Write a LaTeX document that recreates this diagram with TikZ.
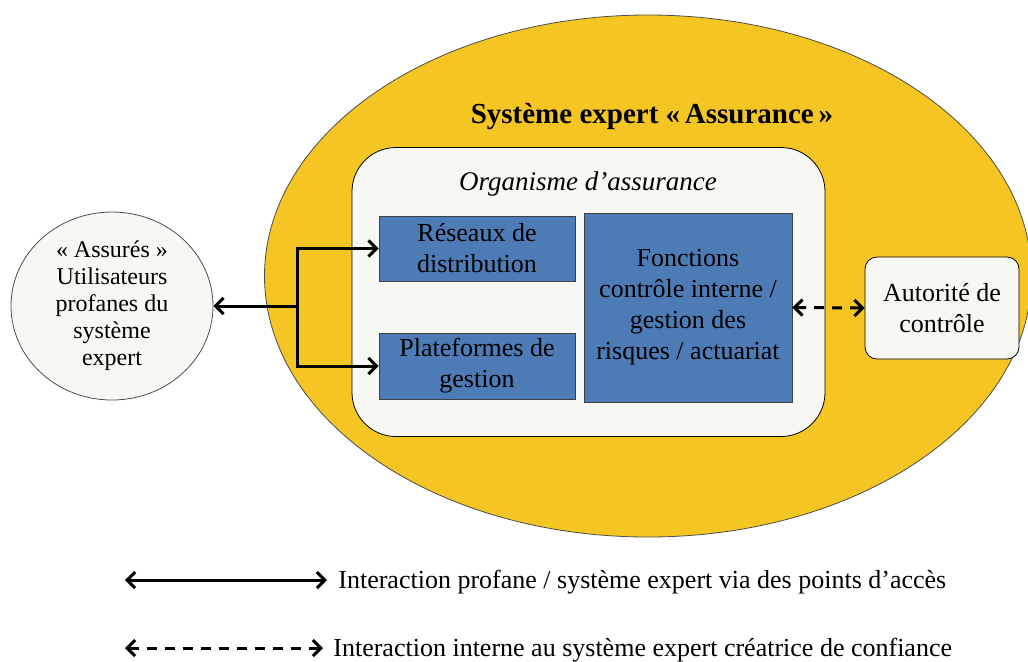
\documentclass[tikz,border=0pt]{standalone}
\usepackage{fontspec}
\setmainfont{Liberation Serif}
\usetikzlibrary{shapes.geometric,arrows.meta}
\definecolor{jaune}{RGB}{245,198,35}
\definecolor{bleu}{RGB}{76,123,182}
\definecolor{creme}{RGB}{247,247,243}
\begin{document}
\begin{tikzpicture}[x=0.5pt,y=-0.5pt,
        bloc/.style={draw=black!75,fill=bleu,inner sep=0pt,align=center,
            font=\fontsize{13}{15.5}\selectfont},
        lien/.style={line width=1.5pt,{Straight Barb[length=4pt,width=8pt]}-{Straight Barb[length=4pt,width=8pt]}},
        tirets/.style={lien,dash pattern=on 5pt off 4pt}]
        \useasboundingbox (0,0) rectangle (1028,661);
        \coordinate (S) at (648,276);
        \coordinate (O) at (588.5,292);
        \coordinate (J) at (297,306);
        \coordinate (L1a) at (125,580);
        \coordinate (L1b) at (327,580);
        \coordinate (L2a) at (125,648);
        \coordinate (L2b) at (323,648);
        \node [draw=black!70,fill=jaune,ellipse,minimum width=383.5pt,minimum height=261pt] (systeme) at (S) {};
        \node [font=\fontsize{14.5}{17}\selectfont\bfseries] (titre) at (652,117) {Système expert «\,Assurance\,»};
        \node [draw=black,fill=creme,rounded corners=22pt,minimum width=236.5pt,minimum height=144.5pt] (organisme) at (O) {};
        \node [font=\fontsize{13.5}{15}\selectfont\itshape] (nomorg) at (588,184) {Organisme d’assurance};
        \node [bloc,minimum width=98pt,minimum height=32.5pt] (reseaux) at (477,248.5) {Réseaux de\\distribution};
        \node [bloc,minimum width=98pt,minimum height=33pt] (plateformes) at (477,366) {Plateformes de\\gestion};
        \node [bloc,minimum width=104pt,minimum height=94.5pt] (fonctions) at (688,307.5) {Fonctions\\contrôle interne /\\gestion des\\risques / actuariat};
        \node [draw=black,fill=creme,rounded corners=6pt,inner sep=0pt,minimum width=77pt,minimum height=51pt,align=center,
            font=\fontsize{13}{15.5}\selectfont] (autorite) at (942,308) {Autorité de\\contrôle};
        \node [draw=black!70,fill=creme,ellipse,inner sep=0pt,minimum width=101pt,minimum height=94pt,align=center,
            font=\fontsize{12}{13.5}\selectfont] (assures) at (112,306) {« Assurés »\\Utilisateurs\\profanes du\\système\\expert};
        \draw [lien,-{Straight Barb[length=4pt,width=8pt]}] (J) -- (assures);
        \draw [lien,-{Straight Barb[length=4pt,width=8pt]}] (J) |- (reseaux.west);
        \draw [lien,-{Straight Barb[length=4pt,width=8pt]}] (J) |- (plateformes.west);
        \draw [tirets] (fonctions.east) -- (autorite.west);
        % legende
        \draw [lien] (L1a) -- (L1b);
        \draw [tirets] (L2a) -- (L2b);
        \node [anchor=west,inner sep=0pt,font=\fontsize{13}{16}\selectfont] (leg1) at (338,582) {Interaction profane / système expert via des points d’accès};
        \node [anchor=west,inner sep=0pt,font=\fontsize{13}{16}\selectfont] (leg2) at (333,650) {Interaction interne au système expert créatrice de confiance};
\end{tikzpicture}
\end{document}
